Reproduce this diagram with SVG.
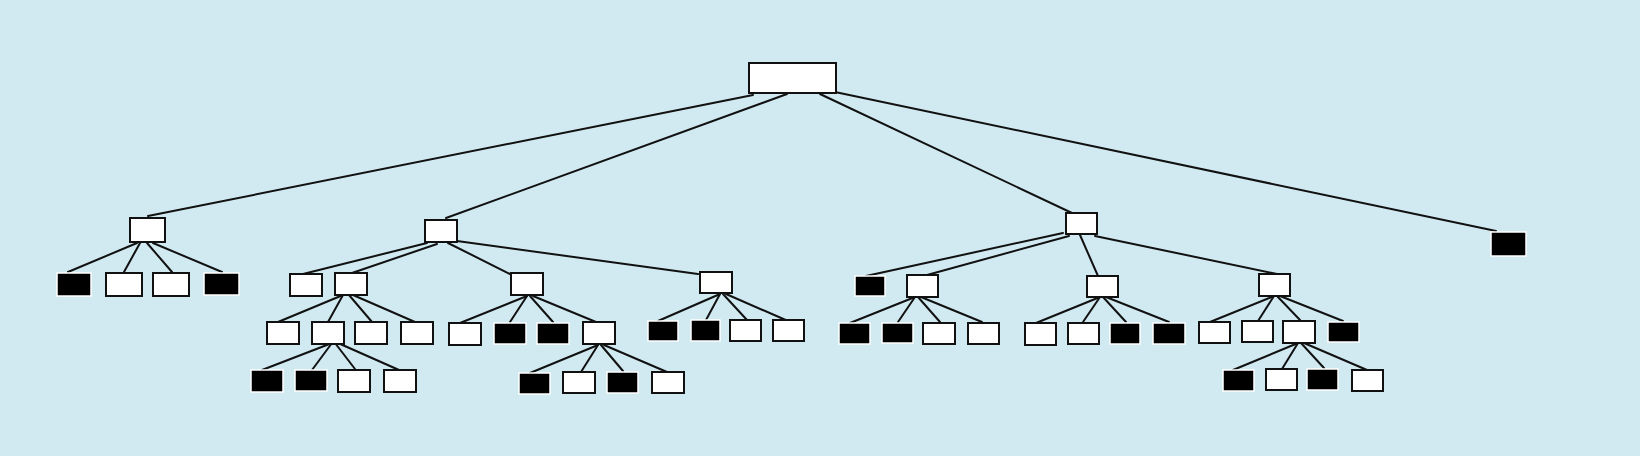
<svg xmlns="http://www.w3.org/2000/svg" width="1640" height="456" viewBox="0 0 1640 456">
<style>
.bg{fill:#d1eaf1}
.w{fill:#ffffff;stroke:#111111;stroke-width:2}
.b{fill:#000000;stroke:#ffffff;stroke-width:1.5}
.e{stroke:#111111;stroke-width:2;fill:none;stroke-linecap:round}
</style>
<rect class="bg" x="0" y="0" width="1640" height="456"/>
<g id="connectors">
<line class="e" x1="753" y1="95" x2="148" y2="216"/>
<line class="e" x1="787" y1="94" x2="446" y2="218"/>
<line class="e" x1="820" y1="94" x2="1072" y2="213"/>
<line class="e" x1="835" y1="92" x2="1496" y2="231"/>
<line class="e" x1="137" y1="243" x2="68" y2="272"/>
<line class="e" x1="140" y1="243" x2="124" y2="272"/>
<line class="e" x1="147" y1="243" x2="172" y2="272"/>
<line class="e" x1="153" y1="243" x2="222" y2="272"/>
<line class="e" x1="427" y1="243" x2="303" y2="274"/>
<line class="e" x1="437" y1="244" x2="352" y2="273"/>
<line class="e" x1="448" y1="243" x2="510" y2="274"/>
<line class="e" x1="457" y1="241" x2="698" y2="274"/>
<line class="e" x1="343" y1="295" x2="278" y2="322"/>
<line class="e" x1="343" y1="295" x2="328" y2="322"/>
<line class="e" x1="349" y1="295" x2="372" y2="322"/>
<line class="e" x1="353" y1="295" x2="415" y2="322"/>
<line class="e" x1="332" y1="343" x2="262" y2="370"/>
<line class="e" x1="332" y1="343" x2="312" y2="370"/>
<line class="e" x1="335" y1="343" x2="355" y2="369"/>
<line class="e" x1="338" y1="343" x2="399" y2="370"/>
<line class="e" x1="527" y1="296" x2="460" y2="323"/>
<line class="e" x1="527" y1="296" x2="510" y2="322"/>
<line class="e" x1="530" y1="296" x2="553" y2="322"/>
<line class="e" x1="533" y1="296" x2="596" y2="322"/>
<line class="e" x1="598" y1="345" x2="530" y2="373"/>
<line class="e" x1="598" y1="345" x2="581" y2="372"/>
<line class="e" x1="601" y1="345" x2="623" y2="371"/>
<line class="e" x1="604" y1="345" x2="667" y2="372"/>
<line class="e" x1="720" y1="294" x2="658" y2="321"/>
<line class="e" x1="720" y1="294" x2="706" y2="320"/>
<line class="e" x1="723" y1="294" x2="747" y2="320"/>
<line class="e" x1="726" y1="294" x2="788" y2="321"/>
<line class="e" x1="1063" y1="233" x2="866" y2="276"/>
<line class="e" x1="1069" y1="236" x2="927" y2="275"/>
<line class="e" x1="1080" y1="235" x2="1098" y2="276"/>
<line class="e" x1="1095" y1="236" x2="1277" y2="274"/>
<line class="e" x1="915" y1="297" x2="850" y2="323"/>
<line class="e" x1="915" y1="297" x2="898" y2="322"/>
<line class="e" x1="918" y1="297" x2="940" y2="322"/>
<line class="e" x1="921" y1="297" x2="982" y2="322"/>
<line class="e" x1="1100" y1="297" x2="1036" y2="323"/>
<line class="e" x1="1100" y1="297" x2="1083" y2="322"/>
<line class="e" x1="1103" y1="297" x2="1126" y2="322"/>
<line class="e" x1="1106" y1="297" x2="1169" y2="322"/>
<line class="e" x1="1274" y1="296" x2="1210" y2="322"/>
<line class="e" x1="1274" y1="296" x2="1258" y2="321"/>
<line class="e" x1="1277" y1="296" x2="1300" y2="320"/>
<line class="e" x1="1280" y1="296" x2="1343" y2="321"/>
<line class="e" x1="1298" y1="343" x2="1233" y2="370"/>
<line class="e" x1="1298" y1="343" x2="1282" y2="369"/>
<line class="e" x1="1301" y1="343" x2="1324" y2="368"/>
<line class="e" x1="1304" y1="343" x2="1367" y2="370"/>
</g>
<g id="root"><rect class="w" x="749" y="63" width="87" height="30"/></g>
<g id="A"><rect class="w" x="130" y="218" width="35" height="24"/></g>
<g id="A1"><rect class="b" x="57" y="273" width="34" height="23"/></g>
<g id="A2"><rect class="w" x="106" y="273" width="36" height="23"/></g>
<g id="A3"><rect class="w" x="153" y="273" width="36" height="23"/></g>
<g id="A4"><rect class="b" x="204" y="273" width="35" height="22"/></g>
<g id="B"><rect class="w" x="425" y="220" width="32" height="22"/></g>
<g id="B1"><rect class="w" x="290" y="274" width="32" height="22"/></g>
<g id="B2"><rect class="w" x="335" y="273" width="32" height="22"/></g>
<g id="B3"><rect class="w" x="511" y="273" width="32" height="22"/></g>
<g id="B4"><rect class="w" x="700" y="272" width="32" height="21"/></g>
<g id="B2a"><rect class="w" x="267" y="322" width="32" height="22"/></g>
<g id="B2b"><rect class="w" x="312" y="322" width="32" height="22"/></g>
<g id="B2c"><rect class="w" x="355" y="322" width="32" height="22"/></g>
<g id="B2d"><rect class="w" x="401" y="322" width="32" height="22"/></g>
<g id="B2b1"><rect class="b" x="251" y="370" width="32" height="22"/></g>
<g id="B2b2"><rect class="b" x="295" y="370" width="32" height="21"/></g>
<g id="B2b3"><rect class="w" x="338" y="370" width="32" height="22"/></g>
<g id="B2b4"><rect class="w" x="384" y="370" width="32" height="22"/></g>
<g id="B3a"><rect class="w" x="449" y="323" width="32" height="22"/></g>
<g id="B3b"><rect class="b" x="494" y="323" width="32" height="21"/></g>
<g id="B3c"><rect class="b" x="537" y="323" width="32" height="21"/></g>
<g id="B3d"><rect class="w" x="583" y="322" width="32" height="22"/></g>
<g id="B3d1"><rect class="b" x="519" y="373" width="31" height="21"/></g>
<g id="B3d2"><rect class="w" x="563" y="372" width="32" height="21"/></g>
<g id="B3d3"><rect class="b" x="607" y="372" width="31" height="21"/></g>
<g id="B3d4"><rect class="w" x="652" y="372" width="32" height="21"/></g>
<g id="B4a"><rect class="b" x="648" y="321" width="30" height="20"/></g>
<g id="B4b"><rect class="b" x="691" y="320" width="29" height="21"/></g>
<g id="B4c"><rect class="w" x="730" y="320" width="31" height="21"/></g>
<g id="B4d"><rect class="w" x="773" y="320" width="31" height="21"/></g>
<g id="C"><rect class="w" x="1066" y="213" width="31" height="21"/></g>
<g id="C1"><rect class="b" x="855" y="276" width="30" height="20"/></g>
<g id="C2"><rect class="w" x="907" y="275" width="31" height="22"/></g>
<g id="C3"><rect class="w" x="1087" y="276" width="31" height="21"/></g>
<g id="C4"><rect class="w" x="1259" y="274" width="31" height="22"/></g>
<g id="C2a"><rect class="b" x="839" y="323" width="31" height="21"/></g>
<g id="C2b"><rect class="b" x="882" y="323" width="31" height="20"/></g>
<g id="C2c"><rect class="w" x="923" y="323" width="32" height="21"/></g>
<g id="C2d"><rect class="w" x="968" y="323" width="31" height="21"/></g>
<g id="C3a"><rect class="w" x="1025" y="323" width="31" height="22"/></g>
<g id="C3b"><rect class="w" x="1068" y="323" width="31" height="21"/></g>
<g id="C3c"><rect class="b" x="1110" y="323" width="30" height="21"/></g>
<g id="C3d"><rect class="b" x="1153" y="323" width="32" height="21"/></g>
<g id="C4a"><rect class="w" x="1199" y="322" width="31" height="21"/></g>
<g id="C4b"><rect class="w" x="1242" y="321" width="31" height="21"/></g>
<g id="C4c"><rect class="w" x="1283" y="321" width="32" height="22"/></g>
<g id="C4d"><rect class="b" x="1328" y="322" width="31" height="20"/></g>
<g id="C4c1"><rect class="b" x="1223" y="370" width="31" height="21"/></g>
<g id="C4c2"><rect class="w" x="1266" y="369" width="31" height="21"/></g>
<g id="C4c3"><rect class="b" x="1307" y="369" width="31" height="21"/></g>
<g id="C4c4"><rect class="w" x="1352" y="370" width="31" height="21"/></g>
<g id="D"><rect class="b" x="1491" y="232" width="35" height="24"/></g>
</svg>
